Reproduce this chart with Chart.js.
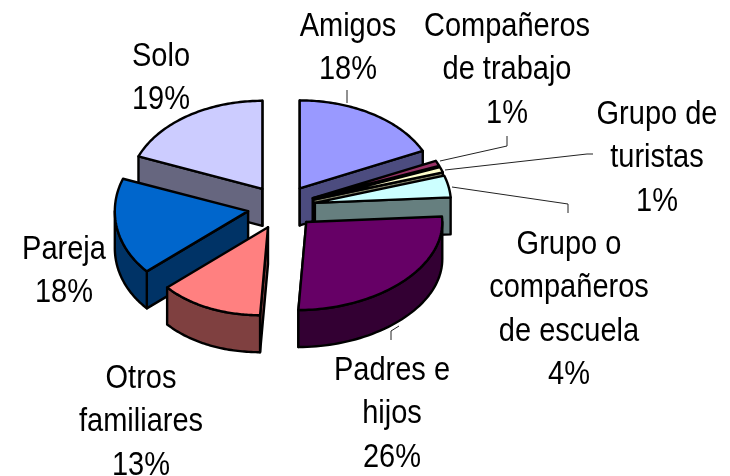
<!DOCTYPE html>
<html>
<head>
<meta charset="utf-8">
<style>html,body{margin:0;padding:0;background:#fff}canvas{display:block}</style>
<script src="https://cdn.jsdelivr.net/npm/chart.js@4"></script>
</head>
<body>
<canvas id="c" width="730" height="476"></canvas>
<script>
const categories = ["Amigos","Compañeros de trabajo","Grupo de turistas","Grupo o compañeros de escuela","Padres e hijos","Otros familiares","Pareja","Solo"];
const shares = [18,1,1,4,26,13,18,19];
const colors = ["#9999FF","#993366","#FFFFCC","#CCFFFF","#660066","#FF8080","#0066CC","#CCCCFF"];
const labelLines = [["Amigos"],["Compañeros","de trabajo"],["Grupo de","turistas"],["Grupo o","compañeros","de escuela"],["Padres e","hijos"],["Otros","familiares"],["Pareja"],["Solo"]];
const labelX = [348,507,657,569,392,141,64,161];
const labelY = [27,27,115,245,371,379,250,57];
const labelGap = 43.3;
const leaders = [
  [[347,90],[347,103]],
  [[440,161],[507,146],[507,136]],
  [[445,170],[587,154],[593,154]],
  [[452,187],[568,204],[568,213]],
  [[399,326],[391,331],[391,340]]
];
const paintOrder = [7,0,1,2,3,6,5,4];
const lean = [0,0,0,0,-0.09,-0.09,-0.1,0];
const squash = 88/136, depth = 37, explode = 34, leftShrink = 0.98;

function half(hex){
  const n = parseInt(hex.slice(1),16);
  return `rgb(${(n>>16)>>1},${((n>>8)&255)>>1},${(n&255)>>1})`;
}
const pie3d = {
  id:'pie3d',
  beforeDatasetDraw(chart,args){
    const ctx = chart.ctx, arcs = args.meta.data;
    ctx.save();
    ctx.lineWidth = 2.4; ctx.lineJoin = 'round'; ctx.strokeStyle = '#000';
    for(const i of paintOrder){
      const a = arcs[i], s = a.startAngle, e = a.endAngle, R = a.outerRadius, mid = (s+e)/2;
      const vx = a.x + Math.cos(mid)*explode, vy = a.y + Math.sin(mid)*explode*squash;
      const px = t => {
        const c = Math.cos(t), sn = Math.sin(t);
        return vx + c*R*(c<0?leftShrink:1) + lean[i]*sn*sn*R*squash;
      };
      const py = t => vy + Math.sin(t)*R*squash;
      const side = half(colors[i]);
      const poly = (pts)=>{ctx.beginPath();pts.forEach((p,j)=>j?ctx.lineTo(p[0],p[1]):ctx.moveTo(p[0],p[1]));ctx.closePath();ctx.fillStyle=side;ctx.fill();ctx.stroke();};
      if(-Math.cos(s) > -0.01) poly([[vx,vy],[px(s),py(s)],[px(s),py(s)+depth],[vx,vy+depth]]);
      if(Math.cos(e) > -0.01) poly([[vx,vy],[px(e),py(e)],[px(e),py(e)+depth],[vx,vy+depth]]);
      const from = Math.max(s,0), to = Math.min(e,Math.PI), steps = 48;
      if(to>from){
        const band=[];
        for(let j=0;j<=steps;j++){const t=from+(to-from)*j/steps;band.push([px(t),py(t)]);}
        for(let j=steps;j>=0;j--){const t=from+(to-from)*j/steps;band.push([px(t),py(t)+depth]);}
        poly(band);
      }
      ctx.beginPath(); ctx.moveTo(vx,vy);
      for(let j=0;j<=64;j++){const t=s+(e-s)*j/64;ctx.lineTo(px(t),py(t));}
      ctx.closePath(); ctx.fillStyle=colors[i]; ctx.fill(); ctx.stroke();
    }
    ctx.restore();
    return false;
  },
  afterDraw(chart){
    const ctx = chart.ctx;
    ctx.save();
    ctx.strokeStyle='#222'; ctx.lineWidth=1;
    for(const l of leaders){ctx.beginPath();l.forEach((p,j)=>j?ctx.lineTo(p[0],p[1]):ctx.moveTo(p[0],p[1]));ctx.stroke();}
    ctx.fillStyle='#000'; ctx.font='32.5px "Liberation Sans"'; ctx.textAlign='center'; ctx.textBaseline='middle';
    const narrow = 29/32.5;
    labelLines.forEach((lines,i)=>{
      [...lines,shares[i]+'%'].forEach((t,j)=>{
        ctx.save();
        ctx.translate(labelX[i],labelY[i]+j*labelGap);
        ctx.scale(narrow,1);
        ctx.fillText(t,0,0);
        ctx.restore();
      });
    });
    ctx.restore();
  }
};
new Chart(document.getElementById('c'),{
  type:'pie',
  data:{labels:categories,datasets:[{data:shares,backgroundColor:colors,borderColor:'#000',borderWidth:2,clip:false}]},
  options:{
    responsive:false,animation:false,radius:136,
    layout:{padding:{right:167,bottom:62}},
    plugins:{legend:{display:false},tooltip:{enabled:false},title:{display:false}}
  },
  plugins:[pie3d]
});
</script>
</body>
</html>
